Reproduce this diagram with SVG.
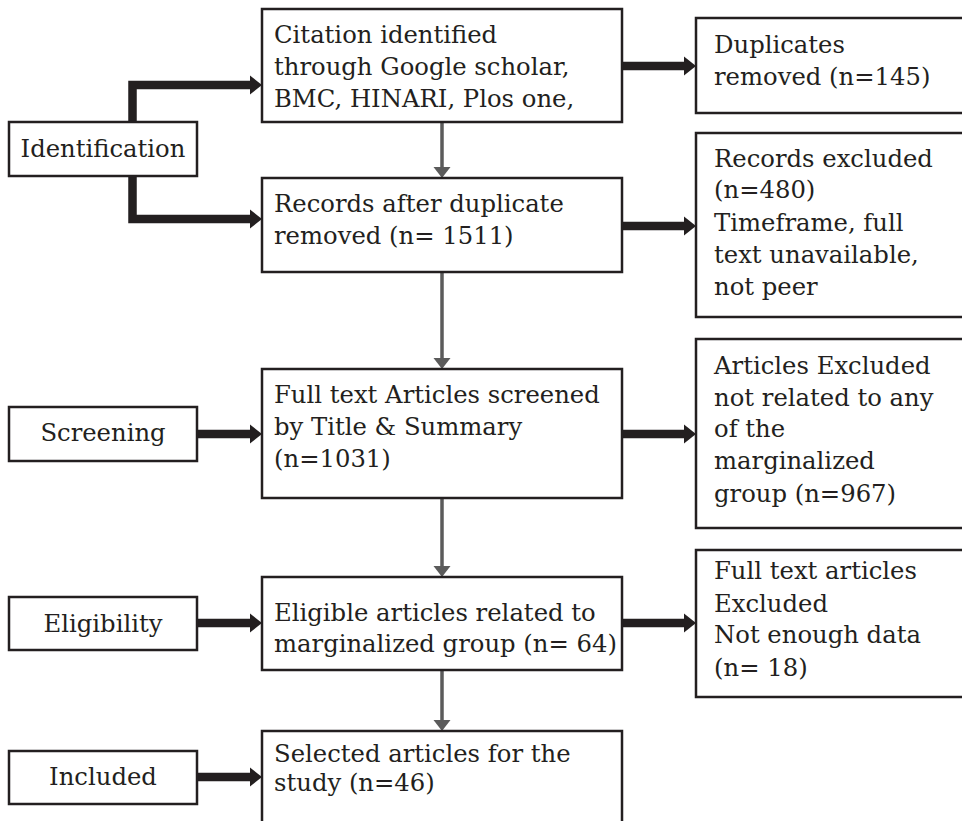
<svg xmlns="http://www.w3.org/2000/svg" width="962" height="821" viewBox="0 0 962 821">
<style>
.box{fill:#fff;stroke:#231f20;stroke-width:2.5}
.t{font-family:"DejaVu Serif","Liberation Serif",serif;font-size:24.3px;fill:#231f20}
.c{text-anchor:middle}
.thick{fill:none;stroke:#231f20;stroke-width:8.5}
.head{fill:#231f20}
.gray{fill:none;stroke:#5b5b5b;stroke-width:3.5}
.ghead{fill:#5b5b5b}
</style>
<rect width="962" height="821" fill="#fff"/>
<g id="connectors">
<path class="thick" d="M251,85 H132.5 V122 M132.5,176 V219 H251"/>
<polygon class="head" points="250,75.5 262,85 250,94.5"/>
<polygon class="head" points="250,209.5 262,219 250,228.5"/>
<path class="thick" d="M197,434 H251 M197,623 H251 M197,777 H251"/>
<polygon class="head" points="250,424.5 262,434 250,443.5"/>
<polygon class="head" points="250,613.5 262,623 250,632.5"/>
<polygon class="head" points="250,767.5 262,777 250,786.5"/>
<path class="thick" d="M622,66 H685 M622,226 H685 M622,434 H685 M622,623 H685"/>
<polygon class="head" points="684,56.5 696,66 684,75.5"/>
<polygon class="head" points="684,216.5 696,226 684,235.5"/>
<polygon class="head" points="684,424.5 696,434 684,443.5"/>
<polygon class="head" points="684,613.5 696,623 684,632.5"/>
<path class="gray" d="M442,122 V168 M442,272 V359 M442,498 V567 M442,670 V721"/>
<polygon class="ghead" points="433.5,167 450.5,167 442,178"/>
<polygon class="ghead" points="433.5,358 450.5,358 442,369"/>
<polygon class="ghead" points="433.5,566 450.5,566 442,577"/>
<polygon class="ghead" points="433.5,720 450.5,720 442,731"/>
</g>
<g id="identification"><rect class="box" x="9" y="122" width="188" height="54"/><text class="t c" x="103" y="157">Identification</text></g>
<g id="screening"><rect class="box" x="9" y="407" width="188" height="54"/><text class="t c" x="103" y="441">Screening</text></g>
<g id="eligibility"><rect class="box" x="9" y="597" width="188" height="53"/><text class="t c" x="103" y="632">Eligibility</text></g>
<g id="included"><rect class="box" x="9" y="751" width="188" height="53"/><text class="t c" x="103" y="785">Included</text></g>
<g id="citation"><rect class="box" x="262" y="9" width="360" height="113"/><text class="t" x="274" y="43">Citation identified<tspan x="274" y="75">through Google scholar,</tspan><tspan x="274" y="107">BMC, HINARI, Plos one,</tspan></text></g>
<g id="records"><rect class="box" x="262" y="178" width="360" height="94"/><text class="t" x="274" y="212">Records after duplicate<tspan x="274" y="244">removed (n= 1511)</tspan></text></g>
<g id="fulltext"><rect class="box" x="262" y="369" width="360" height="129"/><text class="t" x="274" y="403">Full text Articles screened<tspan x="274" y="435">by Title &amp; Summary</tspan><tspan x="274" y="467">(n=1031)</tspan></text></g>
<g id="eligible"><rect class="box" x="262" y="577" width="360" height="93"/><text class="t" x="274" y="621">Eligible articles related to<tspan x="274" y="652">marginalized group (n= 64)</tspan></text></g>
<g id="selected"><rect class="box" x="262" y="731" width="360" height="110"/><text class="t" x="274" y="762">Selected articles for the<tspan x="274" y="791">study (n=46)</tspan></text></g>
<g id="duplicates"><rect class="box" x="696" y="18" width="280" height="95"/><text class="t" x="714" y="53">Duplicates<tspan x="714" y="85">removed (n=145)</tspan></text></g>
<g id="records-excluded"><rect class="box" x="696" y="133" width="280" height="184"/><text class="t" x="714" y="167">Records excluded<tspan x="714" y="198">(n=480)</tspan><tspan x="714" y="231">Timeframe, full</tspan><tspan x="714" y="263">text unavailable,</tspan><tspan x="714" y="295">not peer</tspan></text></g>
<g id="articles-excluded"><rect class="box" x="696" y="339" width="280" height="189"/><text class="t" x="714" y="374">Articles Excluded<tspan x="714" y="406">not related to any</tspan><tspan x="714" y="437">of the</tspan><tspan x="714" y="469">marginalized</tspan><tspan x="714" y="502">group (n=967)</tspan></text></g>
<g id="fulltext-excluded"><rect class="box" x="696" y="550" width="280" height="147"/><text class="t" x="714" y="579">Full text articles<tspan x="714" y="612">Excluded</tspan><tspan x="714" y="643">Not enough data</tspan><tspan x="714" y="676">(n= 18)</tspan></text></g>
</svg>
